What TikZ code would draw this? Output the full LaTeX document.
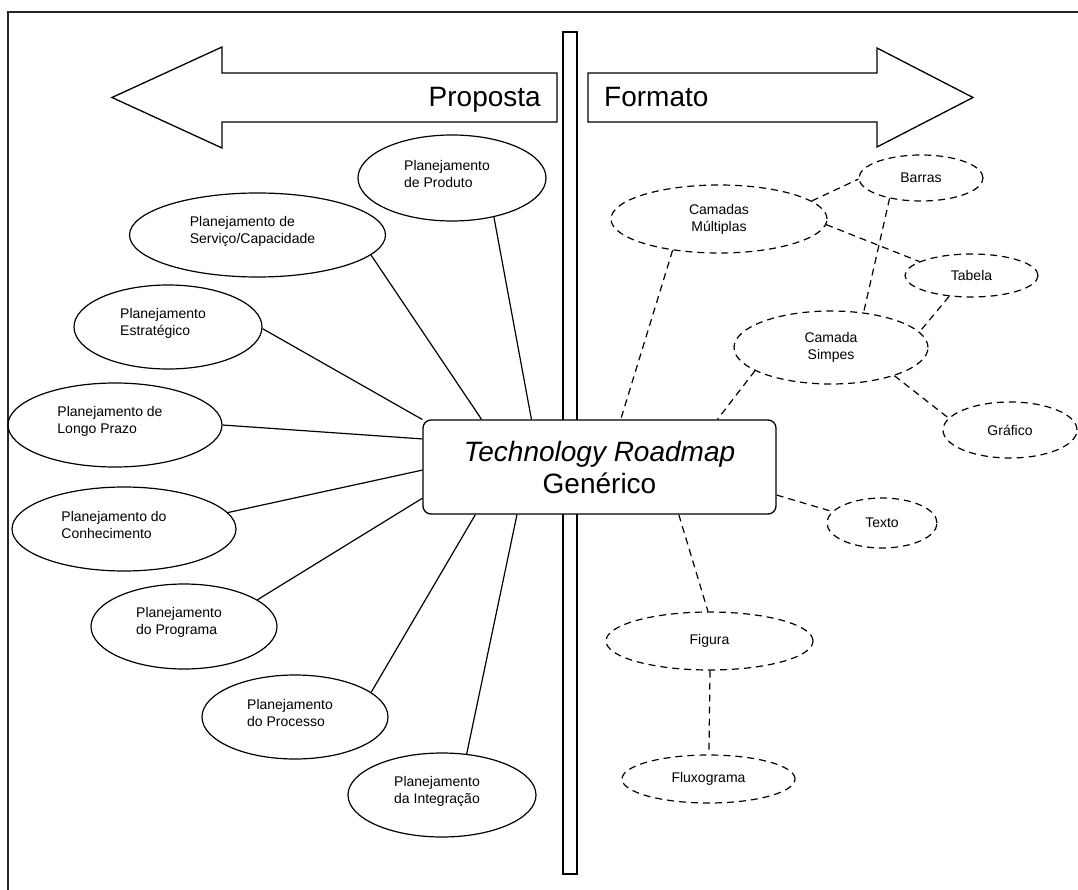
\documentclass[tikz,border=0pt]{standalone}
\usepackage{fontspec}
\setmainfont{Liberation Sans}
\usetikzlibrary{shapes.geometric}
\begin{document}
\begin{tikzpicture}[x=1pt,y=-1pt,
  line join=miter,
  plan/.style={draw, ellipse, line width=1.2pt, inner sep=0pt, minimum height=84pt},
  plantxt/.style={align=left, inner sep=0pt, font=\fontsize{14}{17}\selectfont, xshift=-5pt, yshift=4pt},
  fmt/.style={draw, ellipse, line width=1.2pt, dash pattern=on 7pt off 5pt, inner sep=0pt,
    align=center, font=\fontsize{14}{17}\selectfont},
  link/.style={line width=1.2pt},
  dlink/.style={line width=1.2pt, dash pattern=on 7pt off 5pt},
  bigarrow/.style={draw, line width=1.3pt},
  head/.style={inner sep=0pt, font=\fontsize{28}{32}\selectfont},
]
\useasboundingbox (0,0) rectangle (1078,890);

% outer frame
\draw[line width=1.3pt, black!85] (8,890) -- (8,12) -- (1078,12);

% central divider
\node[draw, line width=1.3pt, minimum width=14pt, minimum height=842pt, inner sep=0pt] (divider) at (570,453) {};

% direction arrows
\draw[bigarrow] (557,73) -- (222,73) -- (222,47) -- (112,97.5) -- (222,148) -- (222,122) -- (557,122) -- cycle;
\draw[bigarrow] (588,73) -- (877,73) -- (877,48) -- (973,97.5) -- (877,147) -- (877,122) -- (588,122) -- cycle;
\node[head, anchor=base east] (proposta) at (541,107) {Proposta};
\node[head, anchor=base west] (formato) at (604,107) {Formato};

% central node, covering the divider
\node[draw, fill=white, line width=1.3pt, rounded corners=8pt, minimum width=353pt, minimum height=94pt,
  inner sep=0pt, align=center, font=\fontsize{28}{32}\selectfont] (trm) at (599.5,467)
  {\itshape Technology Roadmap\\Genérico};

% planning approaches
\node[plan, minimum width=188pt, minimum height=86pt, label={[plantxt]center:{Planejamento\\de Produto}}] (prod) at (452,178) {};
\node[plan, minimum width=256pt, label={[plantxt]center:{Planejamento de\\Serviço/Capacidade}}] (serv) at (257.5,235) {};
\node[plan, minimum width=188pt, label={[plantxt]center:{Planejamento\\Estratégico}}] (estr) at (168,327) {};
\node[plan, minimum width=214pt, label={[plantxt]center:{Planejamento de\\Longo Prazo}}] (longo) at (115,425) {};
\node[plan, minimum width=224pt, label={[plantxt, xshift=-5pt]center:{Planejamento do\\Conhecimento}}] (conh) at (124,529) {};
\node[plan, minimum width=186pt, minimum height=85pt, label={[plantxt]center:{Planejamento\\do Programa}}] (prog) at (184,626.5) {};
\node[plan, minimum width=186pt, label={[plantxt]center:{Planejamento\\do Processo}}] (proc) at (295,717) {};
\node[plan, minimum width=188pt, label={[plantxt]center:{Planejamento\\da Integração}}] (integ) at (442,795) {};

\draw[link] (prod.-43.6) -- (trm.145.4);
\draw[link] (serv.-10.8) -- (trm.158.3);
\draw[link] (estr.-1.8) -- (trm.165.3);
\draw[link] (longo.0) -- (trm.171.3);
\draw[link] (conh.9.1) -- (trm.181.9);
\draw[link] (prog.20.6) -- (trm.190.3);
\draw[link] (proc.18.4) -- (trm.201.1);
\draw[link] (integ.59.8) -- (trm.210);

% roadmap formats
\node[fmt, minimum width=216pt, minimum height=68pt] (cm) at (719,219) {Camadas\\Múltiplas};
\node[fmt, minimum width=124pt, minimum height=46pt] (barras) at (921,178) {Barras};
\node[fmt, minimum width=133pt, minimum height=43pt] (tabela) at (971.5,275.5) {Tabela};
\node[fmt, minimum width=194pt, minimum height=73pt] (cs) at (831,347.5) {Camada\\Simpes};
\node[fmt, minimum width=134pt, minimum height=56pt] (graf) at (1010,430) {Gráfico};
\node[fmt, minimum width=110pt, minimum height=50pt] (texto) at (882,523) {Texto};
\node[fmt, minimum width=207pt, minimum height=58pt] (fig) at (709.5,641) {Figura};
\node[fmt, minimum width=173pt, minimum height=48pt] (flux) at (708.5,779) {Fluxograma};

\draw[dlink] (cm.-146) -- (trm.66.9);
\draw[dlink] (cm.11.8) -- (barras.181);
\draw[dlink] (cm.-3.8) -- (tabela.165.4);
\draw[dlink] (barras.-147) -- (cs.47.2);
\draw[dlink] (tabela.-137.8) -- (cs.10.9);
\draw[dlink] (cs.-163.9) -- (trm.22.8);
\draw[dlink] (cs.-24.7) -- (graf.169.2);
\draw[dlink] (trm.-9) -- (texto.167);
\draw[dlink] (trm.-31.6) -- (fig.93);
\draw[dlink] (fig.-89) -- (flux.89);
\end{tikzpicture}
\end{document}
